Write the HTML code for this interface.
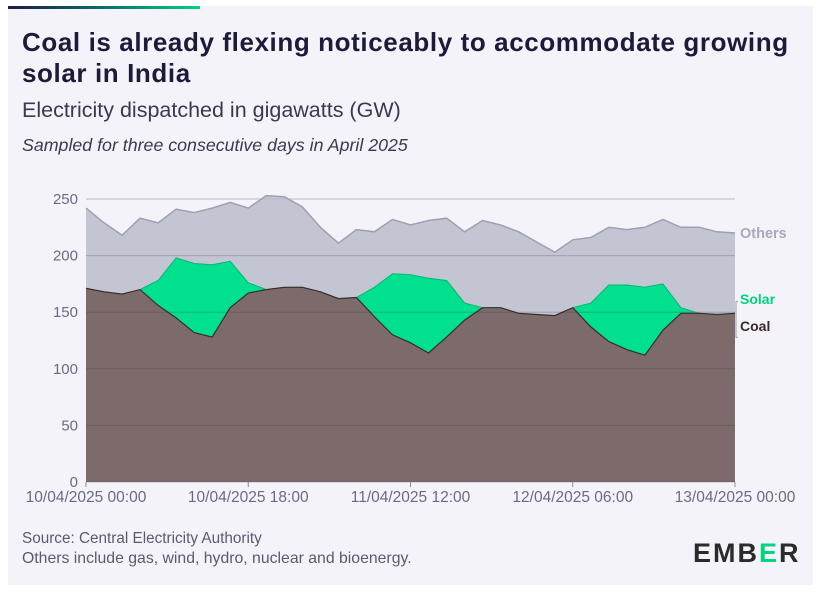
<!DOCTYPE html>
<html><head><meta charset="utf-8"><style>
html,body{margin:0;padding:0;background:#fff;}
body{width:820px;height:593px;position:relative;overflow:hidden;font-family:"Liberation Sans",sans-serif;}
#panel{position:absolute;left:8px;top:6px;width:805px;height:579px;background:#f5f3fa;}
#bar{position:absolute;left:8px;top:6px;width:192px;height:3px;background:linear-gradient(90deg,#1d1b4a,#0a6d6a 50%,#00d47e);}
.t{position:absolute;left:22px;color:#1d1b3a;white-space:nowrap;}
</style></head><body>
<div id="panel"></div>
<div id="bar"></div>
<div class="t" style="top:27px;font-size:26px;letter-spacing:0.6px;font-weight:bold;line-height:31px;">Coal is already flexing noticeably to accommodate growing<br>solar in India</div>
<div class="t" style="top:98px;font-size:21.5px;color:#3a3950;">Electricity dispatched in gigawatts (GW)</div>
<div class="t" style="top:135px;font-size:17.8px;font-style:italic;color:#3a3950;">Sampled for three consecutive days in April 2025</div>
<div class="t" style="top:530px;font-size:15.3px;color:#5a5a70;">Source: Central Electricity Authority</div>
<div class="t" style="top:550px;font-size:15.8px;color:#5a5a70;">Others include gas, wind, hydro, nuclear and bioenergy.</div>
<div style="position:absolute;left:693px;top:538px;font-size:27px;font-weight:bold;letter-spacing:2px;color:#2b2b2b;">EMB<span style="color:#00d47e">E</span>R</div>
<svg id="chart" width="820" height="593" style="position:absolute;left:0;top:0"></svg>
<script>
const hours=[0,2,4,6,8,10,12,14,16,18,20,22,24,26,28,30,32,34,36,38,40,42,44,46,48,50,52,54,56,58,60,62,64,66,68,70,72];
const coal=[171,168,166,170,156,145,132,128,154,167,170,172,172,168,162,163,146,130,123,114,128,143,154,154,149,148,147,154,137,124,117,112,134,149,149,148,149];
const coalPlusSolar=[171,168,166,170,178,198,193,192,195,176,170,172,172,168,162,163,172,184,183,180,178,158,154,154,149,148,147,154,158,174,174,172,175,154,149,148,149];
const total=[242,229,218,233,229,241,238,242,247,242,253,252,243,225,211,223,221,232,227,231,233,221,231,227,221,212,203,214,216,225,223,225,232,225,225,221,220];
const yTicks=[0,50,100,150,200,250];
const xTickHours=[0,18,36,54,72];
const xTickLabels=["10/04/2025 00:00","10/04/2025 18:00","11/04/2025 12:00","12/04/2025 06:00","13/04/2025 00:00"];
const X0=86,X1=735,Y0=482,Y250=199;
const xs=h=>X0+(X1-X0)*h/72;
const ys=v=>Y0-(Y0-Y250)*v/250;
const svg=document.getElementById('chart');
const NS='http://www.w3.org/2000/svg';
function mk(tag,attrs){const e=document.createElementNS(NS,tag);for(const k in attrs)e.setAttribute(k,attrs[k]);svg.appendChild(e);return e;}
function line(arr){return arr.map((v,i)=>xs(hours[i]).toFixed(1)+','+ys(v).toFixed(1)).join(' L');}
function band(top,bot){let d='M'+line(top);for(let i=bot.length-1;i>=0;i--)d+=' L'+xs(hours[i]).toFixed(1)+','+ys(bot[i]).toFixed(1);return d+'Z';}
const zero=hours.map(()=>0);
let e=mk('path',{d:band(total,coalPlusSolar),fill:'#c4c5d3'});

e=mk('path',{d:band(coalPlusSolar,coal),fill:'#00e08e'});

e=mk('path',{d:band(coal,zero),fill:'#7d6b6b'});

yTicks.forEach(t=>{
 const g=mk('line',{x1:X0,x2:X1,y1:ys(t),y2:ys(t),stroke:t===250?'#b8b8c8':'rgba(60,50,80,0.25)','stroke-width':1});
 
 const l=mk('text',{x:78,y:ys(t)+5,'text-anchor':'end','font-size':15,fill:'#6a6a85'});
 l.textContent=t;
});
e=mk('path',{d:'M'+line(total),fill:'none',stroke:'#9fa0b0','stroke-width':1.5});

e=mk('path',{d:'M'+line(coalPlusSolar),fill:'none',stroke:'#00b872','stroke-width':1});

e=mk('path',{d:'M'+line(coal),fill:'none',stroke:'#3d2b2b','stroke-width':1.2});

xTickHours.forEach((h,i)=>{
 const tk=mk('line',{x1:xs(h),x2:xs(h),y1:Y0,y2:Y0+5,stroke:'#8a8aa0'});
 
 const l=mk('text',{x:xs(h),y:502,'text-anchor':'middle','font-size':15.5,fill:'#6a6a85'});
 l.textContent=xTickLabels[i];
});
const last=hours.length-1;
e=mk('text',{x:740,y:ys(total[last])+5,'font-size':14.5,'font-weight':'bold',fill:'#a8a9ba'});e.textContent='Others';

e=mk('path',{d:'M738,'+(ys(coalPlusSolar[last])-12)+' h-2 v'+36+' h2',fill:'none',stroke:'#9a9aaa'});

e=mk('text',{x:740,y:304,'font-size':14,'font-weight':'bold',fill:'#00d47e'});e.textContent='Solar';

e=mk('text',{x:740,y:331,'font-size':14,'font-weight':'bold',fill:'#3d2b2b'});e.textContent='Coal';

</script>
</body></html>
